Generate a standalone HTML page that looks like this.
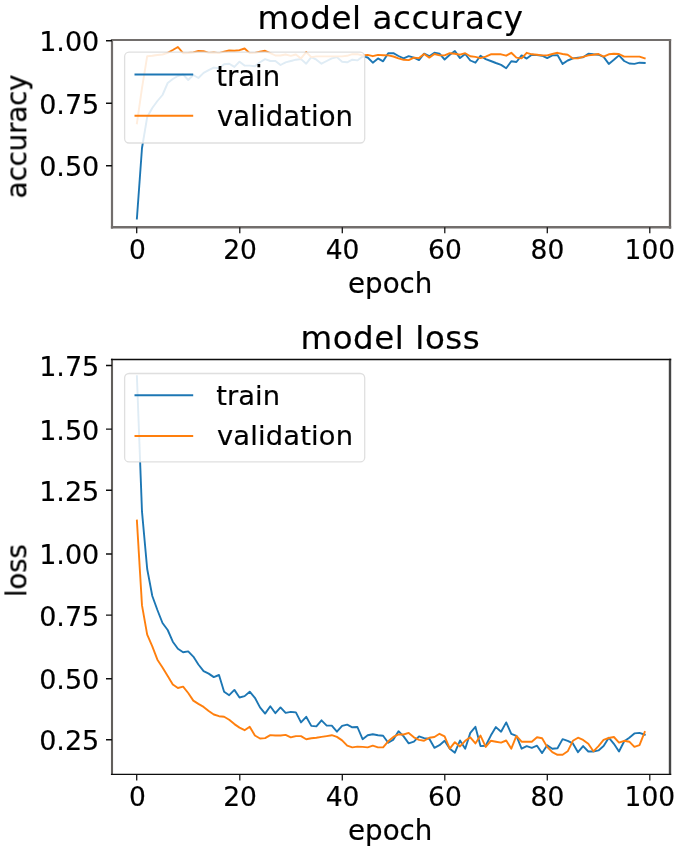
<!DOCTYPE html>
<html lang="en"><head><meta charset="utf-8"><title>model accuracy / model loss</title>
<style>html,body{margin:0;padding:0;background:#fff;overflow:hidden;}svg{display:block;}text{font-family:"DejaVu Sans","Liberation Sans",sans-serif;fill:#000;stroke:#000;stroke-width:0.2;}</style></head><body>
<svg width="685" height="854" viewBox="0 0 685 854">
<defs><filter id="soft" x="-2%" y="-2%" width="104%" height="104%"><feGaussianBlur stdDeviation="0.55"/></filter></defs>
<rect x="0" y="0" width="685" height="854" fill="#fff"/>
<g filter="url(#soft)">
<clipPath id="c1"><rect x="112.0" y="40.0" width="558.0" height="187.3"/></clipPath>
<g clip-path="url(#c1)" fill="none" stroke-width="1.90" stroke-linejoin="round" stroke-linecap="square">
<polyline stroke="#1f77b4" points="136.9,218.5 142.0,148.0 147.2,117.0 152.3,108.0 157.4,101.0 162.5,95.0 167.7,83.0 172.8,79.0 177.9,76.0 183.1,74.4 188.2,80.0 193.3,75.0 198.4,78.0 203.6,72.8 208.7,70.2 213.8,67.6 219.0,68.2 224.1,64.3 229.2,63.7 234.4,66.9 239.5,61.7 244.6,65.6 249.7,65.6 254.9,66.3 260.0,62.3 265.1,59.1 270.3,61.0 275.4,61.0 280.5,65.0 285.6,62.3 290.8,61.0 295.9,59.7 301.0,59.1 306.2,63.7 311.3,57.1 316.4,59.7 321.5,63.7 326.7,61.0 331.8,58.4 336.9,57.1 342.1,61.7 347.2,62.3 352.3,59.7 357.4,60.4 362.6,56.4 367.7,57.5 372.8,62.7 378.0,58.4 383.1,61.3 388.2,53.2 393.4,53.2 398.5,56.0 403.6,58.4 408.7,56.2 413.9,57.6 419.0,60.1 424.1,53.7 429.3,56.2 434.4,52.8 439.5,53.7 444.6,59.5 449.8,54.7 454.9,51.1 460.0,58.1 465.2,54.0 470.3,60.5 475.4,62.7 480.5,55.7 485.7,59.1 490.8,61.0 495.9,63.0 501.1,64.9 506.2,68.3 511.3,61.3 516.4,62.0 521.6,55.4 526.7,58.6 531.8,54.7 537.0,55.1 542.1,55.7 547.2,58.1 552.3,55.4 557.5,55.1 562.6,63.9 567.7,60.5 572.9,58.4 578.0,57.6 583.1,57.2 588.3,53.7 593.4,54.3 598.5,54.7 603.6,56.9 608.8,63.9 613.9,59.8 619.0,55.4 624.2,61.0 629.3,63.5 634.4,63.9 639.5,62.7 644.7,63.0"/>
<polyline stroke="#ff7f0e" points="136.9,123.3 142.0,88.0 147.2,56.2 152.3,55.8 157.4,55.0 162.5,54.5 167.7,52.8 172.8,50.0 177.9,47.0 183.1,53.2 188.2,53.0 193.3,52.5 198.4,51.0 203.6,51.2 208.7,52.9 213.8,52.5 219.0,53.1 224.1,51.6 229.2,50.5 234.4,50.8 239.5,50.2 244.6,48.5 249.7,53.1 254.9,52.9 260.0,51.8 265.1,50.8 270.3,53.1 275.4,55.5 280.5,55.5 285.6,54.5 290.8,55.8 295.9,54.5 301.0,58.4 306.2,52.1 311.3,57.1 316.4,56.4 321.5,56.4 326.7,56.4 331.8,56.4 336.9,56.4 342.1,56.4 347.2,55.8 352.3,54.2 357.4,54.2 362.6,55.5 367.7,54.9 372.8,56.2 378.0,54.9 383.1,55.2 388.2,55.4 393.4,56.5 398.5,58.4 403.6,59.8 408.7,60.1 413.9,57.6 419.0,58.1 424.1,54.0 429.3,57.6 434.4,54.0 439.5,55.4 444.6,55.4 449.8,53.2 454.9,53.7 460.0,54.7 465.2,53.2 470.3,56.2 475.4,56.9 480.5,58.1 485.7,56.6 490.8,54.3 495.9,54.3 501.1,54.3 506.2,55.7 511.3,52.8 516.4,57.6 521.6,58.4 526.7,52.8 531.8,54.3 537.0,54.7 542.1,55.4 547.2,55.4 552.3,54.0 557.5,52.8 562.6,54.0 567.7,54.7 572.9,58.4 578.0,58.4 583.1,56.9 588.3,55.4 593.4,54.7 598.5,54.0 603.6,56.6 608.8,54.3 613.9,53.7 619.0,54.0 624.2,56.6 629.3,56.6 634.4,56.6 639.5,56.6 644.7,58.4"/>
</g>
<path d="M112.00 39.10V228.60" stroke="#726e6c" stroke-width="2.2" fill="none"/>
<path d="M670.00 39.10V228.60" stroke="#66625f" stroke-width="2.3" fill="none"/>
<path d="M110.90 40.00H671.15" stroke="#726e6c" stroke-width="1.8" fill="none"/>
<path d="M110.90 227.30H671.15" stroke="#726e6c" stroke-width="2.6" fill="none"/>
<path d="M136.7 227.3v6.0 M239.8 227.3v6.0 M342.3 227.3v6.0 M444.8 227.3v6.0 M547.3 227.3v6.0 M649.8 227.3v6.0" stroke="#111" stroke-width="1.25" fill="none"/>
<path d="M112.0 40.7h-6.0 M112.0 103.3h-6.0 M112.0 165.7h-6.0" stroke="#111" stroke-width="1.45" fill="none"/>
<text x="137.5" y="259.0" font-size="26.5" text-anchor="middle" stroke-width="0.05">0</text>
<text x="240.0" y="259.0" font-size="26.5" text-anchor="middle" stroke-width="0.05">20</text>
<text x="342.5" y="259.0" font-size="26.5" text-anchor="middle" stroke-width="0.05">40</text>
<text x="444.9" y="259.0" font-size="26.5" text-anchor="middle" stroke-width="0.05">60</text>
<text x="547.4" y="259.0" font-size="26.5" text-anchor="middle" stroke-width="0.05">80</text>
<text x="649.9" y="259.0" font-size="26.5" text-anchor="middle" stroke-width="0.05">100</text>
<text x="390.2" y="293.1" font-size="27.7" text-anchor="middle" textLength="84.3" lengthAdjust="spacing">epoch</text>
<text transform="translate(26.4 136.4) rotate(-90)" font-size="27.7" text-anchor="middle" textLength="123.8" lengthAdjust="spacing">accuracy</text>
<text x="99.3" y="51.2" font-size="27" text-anchor="end">1.00</text>
<text x="99.3" y="113.8" font-size="27" text-anchor="end">0.75</text>
<text x="99.3" y="176.2" font-size="27" text-anchor="end">0.50</text>
<text x="390.3" y="29.0" font-size="32.5" text-anchor="middle" textLength="265.5" lengthAdjust="spacing">model accuracy</text>
<rect x="124.6" y="52.2" width="240.1" height="90.8" rx="4.5" ry="4.5" fill="#fff" fill-opacity="0.86" stroke="#d9d9d9" stroke-opacity="0.85" stroke-width="1.3"/>
<path d="M134.5 74.4H193.2" stroke="#1f77b4" stroke-width="2.00" fill="none"/>
<path d="M134.5 115.7H193.2" stroke="#ff7f0e" stroke-width="2.00" fill="none"/>
<text x="216.2" y="85.5" font-size="27.5" textLength="63.9" lengthAdjust="spacing">train</text>
<text x="217.0" y="125.5" font-size="27.5" textLength="136.0" lengthAdjust="spacing">validation</text>
<clipPath id="c2"><rect x="112.0" y="359.5" width="558.0" height="415.0"/></clipPath>
<g clip-path="url(#c2)" fill="none" stroke-width="1.90" stroke-linejoin="round" stroke-linecap="square">
<polyline stroke="#1f77b4" points="136.9,376.2 142.0,511.7 147.2,569.0 152.3,596.0 157.4,610.0 162.5,623.0 167.7,630.0 172.8,641.7 177.9,648.8 183.1,652.3 188.2,651.4 193.3,656.6 198.4,664.5 203.6,671.2 208.7,673.6 213.8,677.1 219.0,675.0 224.1,691.7 229.2,695.2 234.4,689.9 239.5,697.5 244.6,696.1 249.7,691.7 254.9,697.8 260.0,707.4 265.1,713.6 270.3,706.2 275.4,713.2 280.5,707.4 285.6,712.9 290.8,711.9 295.9,712.4 301.0,722.4 306.2,716.8 311.3,725.9 316.4,726.4 321.5,720.3 326.7,725.6 331.8,725.6 336.9,731.7 342.1,725.9 347.2,724.7 352.3,727.3 357.4,727.0 362.6,739.2 367.7,735.2 372.8,734.3 378.0,735.2 383.1,735.7 388.2,742.7 393.4,739.6 398.5,731.2 403.6,736.4 408.7,743.4 413.9,741.7 419.0,736.4 424.1,738.2 429.3,738.7 434.4,747.8 439.5,745.2 444.6,740.8 449.8,748.7 454.9,752.7 460.0,740.5 465.2,748.7 470.3,732.9 475.4,726.8 480.5,746.1 485.7,745.7 490.8,735.6 495.9,727.1 501.1,731.7 506.2,722.4 511.3,733.8 516.4,735.9 521.6,748.7 526.7,746.1 531.8,747.8 537.0,745.7 542.1,753.1 547.2,745.2 552.3,748.7 557.5,748.2 562.6,739.1 567.7,740.8 572.9,743.4 578.0,752.2 583.1,746.1 588.3,751.5 593.4,751.5 598.5,750.4 603.6,746.1 608.8,737.7 613.9,743.8 619.0,751.5 624.2,741.2 629.3,737.7 634.4,733.4 639.5,732.9 644.7,734.7"/>
<polyline stroke="#ff7f0e" points="136.9,520.6 142.0,605.4 147.2,634.7 152.3,646.4 157.4,659.7 162.5,667.4 167.7,676.0 172.8,684.5 177.9,688.0 183.1,686.6 188.2,693.0 193.3,700.6 198.4,703.9 203.6,706.9 208.7,711.0 213.8,714.5 219.0,716.2 224.1,716.7 229.2,719.7 234.4,724.1 239.5,727.6 244.6,730.2 249.7,726.7 254.9,735.5 260.0,738.5 265.1,738.1 270.3,735.1 275.4,735.5 280.5,735.5 285.6,734.9 290.8,737.3 295.9,736.1 301.0,736.1 306.2,739.2 311.3,738.2 316.4,737.8 321.5,736.9 326.7,736.1 331.8,735.2 336.9,736.9 342.1,740.4 347.2,745.7 352.3,747.4 357.4,746.6 362.6,746.9 367.7,747.4 372.8,745.7 378.0,747.4 383.1,747.4 388.2,741.3 393.4,736.9 398.5,734.4 403.6,734.5 408.7,732.9 413.9,737.3 419.0,739.9 424.1,740.8 429.3,737.7 434.4,737.0 439.5,733.8 444.6,736.4 449.8,748.7 454.9,742.2 460.0,746.4 465.2,740.8 470.3,737.3 475.4,743.4 480.5,735.6 485.7,746.9 490.8,740.8 495.9,741.7 501.1,742.6 506.2,740.5 511.3,748.7 516.4,735.9 521.6,741.7 526.7,741.7 531.8,741.7 537.0,737.3 542.1,738.2 547.2,746.9 552.3,752.2 557.5,754.8 562.6,754.8 567.7,751.3 572.9,740.8 578.0,737.7 583.1,739.9 588.3,743.8 593.4,751.3 598.5,746.1 603.6,739.9 608.8,738.0 613.9,737.0 619.0,742.6 624.2,740.8 629.3,741.7 634.4,746.9 639.5,745.2 644.7,732.0"/>
</g>
<path d="M112.00 358.85V775.10" stroke="#625e5c" stroke-width="2.1" fill="none"/>
<path d="M670.00 358.85V775.10" stroke="#444" stroke-width="2.4" fill="none"/>
<path d="M110.95 359.50H671.20" stroke="#111" stroke-width="1.3" fill="none"/>
<path d="M110.95 774.45H671.20" stroke="#111" stroke-width="1.3" fill="none"/>
<path d="M136.7 774.5v6.0 M239.8 774.5v6.0 M342.3 774.5v6.0 M444.8 774.5v6.0 M547.3 774.5v6.0 M649.8 774.5v6.0" stroke="#111" stroke-width="1.25" fill="none"/>
<path d="M112.0 365.5h-6.0 M112.0 429.1h-6.0 M112.0 490.3h-6.0 M112.0 553.9h-6.0 M112.0 615.1h-6.0 M112.0 678.7h-6.0 M112.0 739.8h-6.0" stroke="#111" stroke-width="1.45" fill="none"/>
<text x="137.5" y="805.7" font-size="26.5" text-anchor="middle" stroke-width="0.05">0</text>
<text x="240.0" y="805.7" font-size="26.5" text-anchor="middle" stroke-width="0.05">20</text>
<text x="342.5" y="805.7" font-size="26.5" text-anchor="middle" stroke-width="0.05">40</text>
<text x="444.9" y="805.7" font-size="26.5" text-anchor="middle" stroke-width="0.05">60</text>
<text x="547.4" y="805.7" font-size="26.5" text-anchor="middle" stroke-width="0.05">80</text>
<text x="649.9" y="805.7" font-size="26.5" text-anchor="middle" stroke-width="0.05">100</text>
<text x="390.2" y="839.7" font-size="27.7" text-anchor="middle" textLength="84.3" lengthAdjust="spacing">epoch</text>
<text transform="translate(26.4 570.6) rotate(-90)" font-size="27.7" text-anchor="middle" textLength="53.0" lengthAdjust="spacing">loss</text>
<text x="99.3" y="376.0" font-size="27" text-anchor="end">1.75</text>
<text x="99.3" y="439.6" font-size="27" text-anchor="end">1.50</text>
<text x="99.3" y="500.8" font-size="27" text-anchor="end">1.25</text>
<text x="99.3" y="564.4" font-size="27" text-anchor="end">1.00</text>
<text x="99.3" y="625.6" font-size="27" text-anchor="end">0.75</text>
<text x="99.3" y="689.2" font-size="27" text-anchor="end">0.50</text>
<text x="99.3" y="750.3" font-size="27" text-anchor="end">0.25</text>
<text x="390.1" y="348.9" font-size="32.5" text-anchor="middle" textLength="179.3" lengthAdjust="spacing">model loss</text>
<rect x="124.6" y="373.5" width="240.1" height="88.4" rx="4.5" ry="4.5" fill="#fff" fill-opacity="0.86" stroke="#d9d9d9" stroke-opacity="0.85" stroke-width="1.3"/>
<path d="M134.5 395.3H193.2" stroke="#1f77b4" stroke-width="2.00" fill="none"/>
<path d="M134.5 435.9H193.2" stroke="#ff7f0e" stroke-width="2.00" fill="none"/>
<text x="216.2" y="405.1" font-size="27.3" textLength="63.9" lengthAdjust="spacing">train</text>
<text x="217.0" y="445.1" font-size="27.3" textLength="136.0" lengthAdjust="spacing">validation</text>
</g></svg></body></html>
